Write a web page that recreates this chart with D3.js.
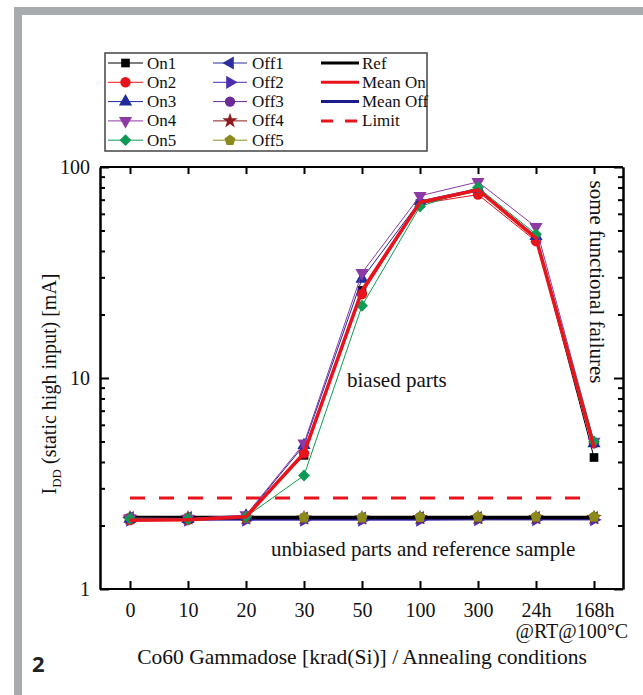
<!DOCTYPE html>
<html><head><meta charset="utf-8">
<script src="https://cdn.jsdelivr.net/npm/d3@7"></script>
<style>body{margin:0;background:#fff}svg{display:block}</style>
</head><body>
<svg id="c" width="643" height="695"></svg>
<script>
const categories = ["0","10","20","30","50","100","300","24h","168h"];
const on1 = [2.15, 2.14, 2.2, 4.3, 26, 67, 77, 46, 4.2];
const on2 = [2.12, 2.13, 2.2, 4.4, 25, 67, 74, 44.5, 4.9];
const on3 = [2.15, 2.14, 2.22, 4.8, 29.5, 69, 79, 47, 4.9];
const on4 = [2.17, 2.16, 2.24, 4.9, 31.5, 73, 85, 52, 5.0];
const on5 = [2.15, 2.14, 2.2, 3.45, 22, 65, 80, 48, 5.0];
const off1 = [2.18, 2.18, 2.17, 2.17, 2.17, 2.18, 2.18, 2.18, 2.18];
const off2 = [2.12, 2.12, 2.12, 2.12, 2.12, 2.12, 2.13, 2.13, 2.13];
const off3 = [2.18, 2.18, 2.18, 2.18, 2.18, 2.19, 2.19, 2.19, 2.19];
const off4 = [2.17, 2.17, 2.17, 2.17, 2.17, 2.18, 2.18, 2.18, 2.18];
const off5 = [2.18, 2.18, 2.18, 2.18, 2.18, 2.19, 2.2, 2.2, 2.2];
const ref = [2.18, 2.18, 2.18, 2.18, 2.18, 2.18, 2.18, 2.18, 2.18];
const meanOn = [2.12, 2.13, 2.2, 4.4, 26, 68, 78, 46, 4.7];
const meanOff = [2.16, 2.16, 2.16, 2.16, 2.16, 2.16, 2.16, 2.16, 2.16];
const limit = [2.7, 2.7];
const yMajor = [1, 10, 100];
const yMinor = [2,3,4,5,6,7,8,9,20,30,40,50,60,70,80,90];

const svg = d3.select("#c");
const FONT = "'Liberation Serif','Times New Roman',serif";

// grey frame
svg.append("rect").attr("x",14).attr("y",7).attr("width",8).attr("height",688).attr("fill","#a6abae");
svg.append("rect").attr("x",14).attr("y",7).attr("width",629).attr("height",8).attr("fill","#a6abae");

const L=100, R=623, T=167, B=589;
const x = d3.scalePoint().domain(categories).range([130,594]);
const y = d3.scaleLog().domain([1,100]).range([B,T]);

const symbolPentagon = {draw(ctx, size){
  const r = Math.sqrt(size/2.378);
  for(let i=0;i<5;i++){const a=-Math.PI/2+i*2*Math.PI/5; const px=r*Math.cos(a), py=r*Math.sin(a); if(i===0)ctx.moveTo(px,py); else ctx.lineTo(px,py);}
  ctx.closePath();}};

const series = [
  {name:"On1", v:on1, color:"#000000", sym:d3.symbolSquare, rot:0, size:75},
  {name:"On2", v:on2, color:"#e8141c", sym:d3.symbolCircle, rot:0, size:85},
  {name:"On3", v:on3, color:"#1f2a9c", sym:d3.symbolTriangle, rot:0, size:75},
  {name:"On4", v:on4, color:"#8e3aa6", sym:d3.symbolTriangle, rot:180, size:75},
  {name:"On5", v:on5, color:"#0e9a55", sym:d3.symbolSquare, rot:45, size:70},
  {name:"Off1", v:off1, color:"#2c2f9e", sym:d3.symbolTriangle, rot:-90, size:75},
  {name:"Off2", v:off2, color:"#4b2fb0", sym:d3.symbolTriangle, rot:90, size:75},
  {name:"Off3", v:off3, color:"#6b2c9a", sym:d3.symbolCircle, rot:0, size:85},
  {name:"Off4", v:off4, color:"#8c1c1c", sym:d3.symbolStar, rot:0, size:75},
  {name:"Off5", v:off5, color:"#8c8a1c", sym:symbolPentagon, rot:0, size:80}
];

const line = d3.line().x((d,i)=>x(categories[i])).y(d=>y(d));
const plot = svg.append("g");

plot.append("line").attr("x1",x(categories[0])).attr("x2",x(categories[categories.length-1]))
  .attr("y1",y(limit[0])).attr("y2",y(limit[1])).attr("stroke","#e8141c").attr("stroke-width",3)
  .attr("stroke-dasharray","15,14");

function drawSeries(s){
  plot.append("path").datum(s.v).attr("d",line).attr("fill","none").attr("stroke",s.color).attr("stroke-width",1);
  plot.selectAll(null).data(s.v).join("path")
    .attr("d",d3.symbol().type(s.sym).size(s.size))
    .attr("transform",(d,i)=>`translate(${x(categories[i])},${y(d)}) rotate(${s.rot})`)
    .attr("fill",s.color);
}
plot.append("path").datum(meanOff).attr("d",line).attr("fill","none").attr("stroke","#1c1c8c").attr("stroke-width",3.5);
series.slice(5).forEach(drawSeries);
plot.append("path").datum(ref).attr("d",line).attr("fill","none").attr("stroke","#000").attr("stroke-width",3.5);
plot.selectAll(null).data(off5).join("path")
  .attr("d",d3.symbol().type(symbolPentagon).size(80))
  .attr("transform",(d,i)=>`translate(${x(categories[i])},${y(d)})`).attr("fill","#8c8a1c");
series.slice(0,5).forEach(drawSeries);
plot.append("path").datum(meanOn).attr("d",line).attr("fill","none").attr("stroke","#e8141c").attr("stroke-width",3.5);

function styleAxis(g){ g.selectAll("path,line").attr("stroke","#000").attr("stroke-width",2);
  g.selectAll("text").attr("font-family",FONT).attr("font-size",20).attr("fill","#111"); }
svg.append("g").attr("transform",`translate(${L},0)`)
  .call(d3.axisLeft(y).tickValues(yMajor).tickFormat(d3.format("d")).tickSize(-9).tickSizeOuter(0).tickPadding(10)).call(styleAxis);
svg.append("g").attr("transform",`translate(${L},0)`)
  .call(d3.axisLeft(y).tickValues(yMinor).tickFormat("").tickSize(-5).tickSizeOuter(0)).call(styleAxis);
svg.append("g").attr("transform",`translate(${R},0)`)
  .call(d3.axisRight(y).tickValues(yMajor).tickFormat("").tickSize(-9).tickSizeOuter(0)).call(styleAxis);
svg.append("g").attr("transform",`translate(${R},0)`)
  .call(d3.axisRight(y).tickValues(yMinor).tickFormat("").tickSize(-5).tickSizeOuter(0)).call(styleAxis);
const xb = svg.append("g").attr("transform",`translate(0,${B})`)
  .call(d3.axisBottom(x).tickSize(-8).tickSizeOuter(0).tickPadding(14)).call(styleAxis);
xb.select(".domain").attr("d",`M${L},0H${R}`);
const xt = svg.append("g").attr("transform",`translate(0,${T})`)
  .call(d3.axisTop(x).tickSize(-7).tickSizeOuter(0).tickFormat("")).call(styleAxis);
xt.select(".domain").attr("d",`M${L},0H${R}`);

const txt = (s,xx,yy,opt={}) => svg.append("text").attr("x",xx).attr("y",yy).text(s)
  .attr("font-family",opt.ff||FONT).attr("font-size",opt.fs||21).attr("fill",opt.fill||"#111")
  .attr("text-anchor",opt.anchor||"start").attr("font-weight",opt.fw||"normal");
txt("biased parts",347,387);
txt("unbiased parts and reference sample",271,556);
txt("@RT@100°C",628,638,{anchor:"end",fs:20});
txt("Co60 Gammadose [krad(Si)] / Annealing conditions",362,664,{anchor:"middle",fs:21.5});
txt("2",32,672,{ff:"'Open Sans',sans-serif",fs:22,fw:"bold",fill:"#222"});
svg.append("text").attr("transform","translate(590,282) rotate(90)").attr("text-anchor","middle")
  .attr("font-family",FONT).attr("font-size",21).attr("fill","#111").text("some functional failures");
const yl = svg.append("text").attr("transform","translate(56,384) rotate(-90)").attr("text-anchor","middle")
  .attr("font-family",FONT).attr("font-size",20).attr("fill","#111");
yl.append("tspan").text("I");
yl.append("tspan").attr("font-size",13).attr("dy",5).text("DD");
yl.append("tspan").attr("dy",-5).text(" (static high input) [mA]");

const lg = svg.append("g");
lg.append("rect").attr("x",105).attr("y",53).attr("width",322).attr("height",98)
  .attr("fill","#fff").attr("stroke","#444").attr("stroke-width",1.5);
const rowY = i => 63 + i*19.3;
series.forEach((s,k)=>{
  const col = k<5?0:1, row = k%5;
  const x0 = col===0?108:213, x1 = col===0?143:247, tx = col===0?147:252;
  const yy = rowY(row);
  lg.append("line").attr("x1",x0).attr("x2",x1).attr("y1",yy).attr("y2",yy).attr("stroke",s.color).attr("stroke-width",1);
  lg.append("path").attr("d",d3.symbol().type(s.sym).size(s.size))
    .attr("transform",`translate(${(x0+x1)/2},${yy}) rotate(${s.rot})`).attr("fill",s.color);
  lg.append("text").attr("x",tx).attr("y",yy+5.5).text(s.name).attr("font-family",FONT).attr("font-size",17).attr("fill","#111");
});
const extra = [
  {name:"Ref", color:"#000", dash:null},
  {name:"Mean On", color:"#e8141c", dash:null},
  {name:"Mean Off", color:"#1c1c8c", dash:null},
  {name:"Limit", color:"#e8141c", dash:"12,12"}
];
extra.forEach((e,row)=>{
  const yy = rowY(row);
  lg.append("line").attr("x1",321).attr("x2",359).attr("y1",yy).attr("y2",yy).attr("stroke",e.color)
    .attr("stroke-width",3).attr("stroke-dasharray",e.dash);
  lg.append("text").attr("x",362).attr("y",yy+5.5).text(e.name).attr("font-family",FONT).attr("font-size",17).attr("fill","#111");
});
</script>
</body></html>
